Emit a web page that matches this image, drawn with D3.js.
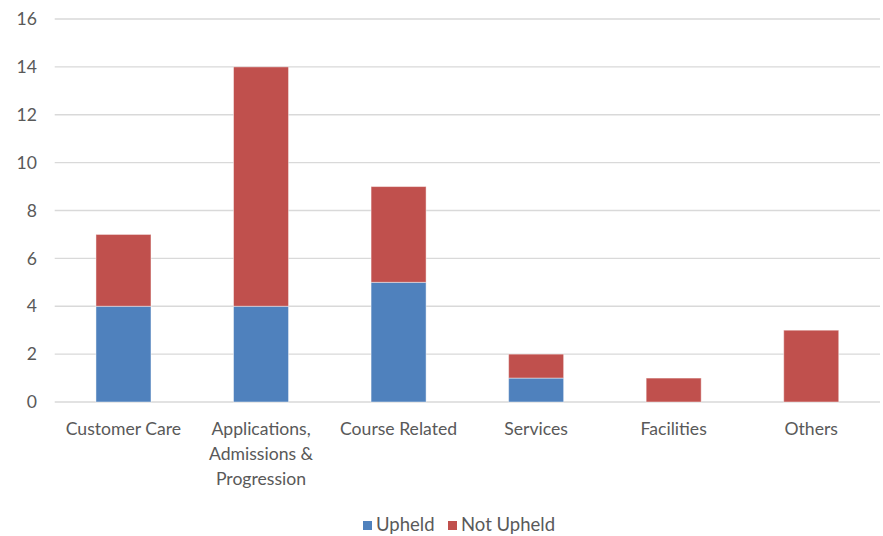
<!DOCTYPE html>
<html><head><meta charset="utf-8">
<script src="https://cdn.jsdelivr.net/npm/d3@7"></script>
<style>body{margin:0;background:#fff}svg{display:block}text{font-family:Lato,"Open Sans",sans-serif;fill:#595959}</style>
</head><body><svg id="c" width="883" height="536"></svg>
<script>
const categories = ["Customer Care", "Applications, Admissions & Progression", "Course Related", "Services", "Facilities", "Others"];
const upheld = [4, 4, 5, 1, 0, 0];
const notUpheld = [3, 10, 4, 1, 1, 3];
const seriesNames = ["Upheld", "Not Upheld"];
const colors = ["#4F81BD", "#C0504D"];
const yTicks = [0, 2, 4, 6, 8, 10, 12, 14, 16];

const svg = d3.select("#c");
const x = d3.scaleBand().domain(categories).range([54.7, 880]).paddingInner(0.6).paddingOuter(0.3);
const y = d3.scaleLinear().domain([0, 16]).range([402, 19]);
const fs = 17.6;

svg.append("g").selectAll("line").data(yTicks).join("line")
  .attr("x1", 54.7).attr("x2", 880).attr("y1", d => y(d)).attr("y2", d => y(d))
  .attr("stroke", "#d9d9d9").attr("stroke-width", 1.3);

svg.append("g").selectAll("text").data(yTicks).join("text")
  .attr("x", 37).attr("y", d => y(d)).attr("dy", "0.35em").attr("text-anchor", "end")
  .attr("font-size", fs).text(d => d);

const rows = categories.map((c, i) => ({cat: c, Upheld: upheld[i], "Not Upheld": notUpheld[i]}));
const stack = d3.stack().keys(seriesNames)(rows);
svg.append("g").selectAll("g").data(stack).join("g").attr("fill", (d, i) => colors[i])
  .selectAll("rect").data(d => d.filter(p => p[1] - p[0] > 0)).join("rect")
  .attr("x", d => x(d.data.cat)).attr("width", x.bandwidth())
  .attr("y", d => y(d[1])).attr("height", d => y(d[0]) - y(d[1]))
  .attr("stroke", "rgba(255,255,255,0.45)").attr("stroke-width", 1);

// x labels with wrapping
const lab = svg.append("g");
categories.forEach(c => {
  const t = lab.append("text").attr("text-anchor", "middle").attr("font-size", fs)
    .attr("x", x(c) + x.bandwidth() / 2);
  const words = c.split(" ");
  let lines = [], cur = [];
  const tmp = lab.append("text").attr("font-size", fs);
  words.forEach(w => {
    const test = cur.concat([w]).join(" ");
    tmp.text(test);
    if (tmp.node().getComputedTextLength() > 128 && cur.length) { lines.push(cur.join(" ")); cur = [w]; }
    else cur.push(w);
  });
  lines.push(cur.join(" "));
  tmp.remove();
  lines.forEach((l, i) => t.append("tspan").attr("x", x(c) + x.bandwidth() / 2).attr("y", 435 + i * 25).text(l));
});

// legend
const lg = svg.append("g");
const items = [{n: seriesNames[0], c: colors[0], x: 363}, {n: seriesNames[1], c: colors[1], x: 448}];
items.forEach(it => {
  lg.append("rect").attr("x", it.x).attr("y", 521).attr("width", 9).attr("height", 9).attr("fill", it.c);
  lg.append("text").attr("x", it.x + 13).attr("y", 531).attr("font-size", 18.5).text(it.n);
});
</script></body></html>
